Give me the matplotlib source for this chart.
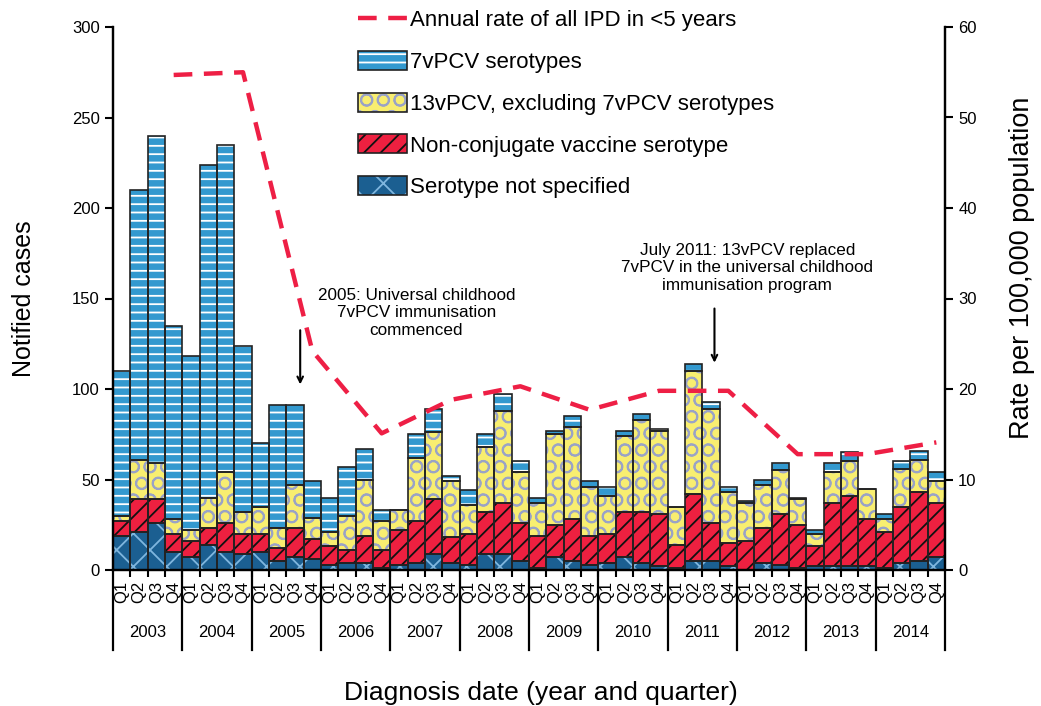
import matplotlib
matplotlib.use("Agg")
import matplotlib.pyplot as plt
from matplotlib.patches import Patch
import numpy as np

plt.rcParams["font.family"] = ["Liberation Sans", "DejaVu Sans"]
plt.rcParams["hatch.linewidth"] = 1.3

years = [str(y) for y in range(2003, 2015)]
quarters = ["Q1", "Q2", "Q3", "Q4"]

# notified cases per quarter, 2003 Q1 .. 2014 Q4
not_specified = [19, 21, 26, 10, 7, 14, 10, 9, 10, 5, 7, 6,
                 3, 4, 4, 1, 3, 4, 9, 4, 3, 9, 9, 5,
                 1, 7, 5, 3, 4, 7, 4, 2, 1, 5, 5, 2,
                 0, 4, 3, 1, 2, 2, 2, 2, 1, 4, 5, 7]
non_conjugate = [8, 18, 13, 10, 9, 9, 16, 11, 10, 7, 16, 11,
                 10, 7, 15, 10, 19, 23, 30, 14, 17, 23, 28, 21,
                 18, 18, 23, 16, 16, 25, 28, 29, 13, 37, 21, 13,
                 16, 19, 28, 24, 11, 35, 39, 26, 20, 31, 38, 30]
pcv13_only = [3, 22, 20, 8, 6, 17, 28, 12, 15, 11, 24, 12,
              8, 19, 31, 16, 11, 35, 37, 31, 16, 36, 51, 28,
              18, 50, 51, 27, 21, 42, 51, 46, 21, 68, 63, 28,
              21, 24, 24, 14, 7, 17, 19, 17, 7, 21, 18, 12]
pcv7 = [80, 149, 181, 107, 96, 184, 181, 92, 35, 68, 44, 20,
        19, 27, 17, 6, 0, 13, 13, 3, 8, 7, 9, 6,
        3, 2, 6, 3, 5, 3, 3, 1, 0, 4, 4, 3,
        1, 3, 4, 1, 2, 5, 5, 0, 3, 4, 5, 5]

# annual rate per 100,000 (<5 years), plotted at Q4 of each year
annual_rate = [54.7, 55.0, 24.2, 15.1, 18.8, 20.3, 17.7, 19.8, 19.8, 12.8, 12.8, 14.1]

RED = "#EE1F45"
series = [
    (not_specified, "#1B5F91", "#7FB6DE", "x", "Serotype not specified"),
    (non_conjugate, "#EE2040", "#111111", "//", "Non-conjugate vaccine serotype"),
    (pcv13_only, "#F8EE70", "#9AA3C6", "O", "13vPCV, excluding 7vPCV serotypes"),
    (pcv7, "#3399CF", "#FFFFFF", "--", "7vPCV serotypes"),
]

fig = plt.figure(figsize=(10.41, 7.06), dpi=100)
ax = fig.add_axes([113 / 1041, 136 / 706, 832 / 1041, 543 / 706])
ax2 = ax.twinx()

n = len(pcv7)
x = np.arange(n)
bottom = np.zeros(n)
handles = {}
for vals, fc, hc, hatch, label in series:
    vals = np.array(vals, dtype=float)
    # hatch layer first, then a plain outline on top
    ax.bar(x, vals, bottom=bottom, width=1.0, color=fc, edgecolor=hc,
           hatch=hatch, linewidth=0, zorder=2)
    ax.bar(x, vals, bottom=bottom, width=1.0, fill=False,
           edgecolor="#222222", linewidth=1.2, zorder=3)
    bottom += vals
    handles[label] = (Patch(facecolor=fc, edgecolor=hc, hatch=hatch, linewidth=0),
                      Patch(fill=False, edgecolor="#222222", linewidth=1.2))

rate_x = [4 * k + 3 for k in range(len(years))]
(rate_line,) = ax2.plot(rate_x, annual_rate, color=RED, lw=3.2,
                        dashes=(4.2, 2.6), zorder=4)

ax.set_xlim(-0.5, n - 0.5)
ax.set_ylim(0, 300)
ax.set_yticks(range(0, 301, 50))
ax2.set_ylim(0, 60)
ax2.set_yticks(range(0, 61, 10))
ax2.patch.set_visible(False)

ax.set_xticks(x)
ax.set_xticklabels(quarters * len(years), rotation=90, fontsize=12)
ax.set_xticks(np.arange(0.5, n - 1, 1), minor=True)
ax.tick_params(axis="x", which="major", length=0, pad=8)
ax.tick_params(axis="x", which="minor", length=5, width=1.5)
ax.tick_params(axis="y", labelsize=12, length=6, width=1.5)
ax2.tick_params(axis="y", labelsize=12, length=6, width=1.5)

for a in (ax, ax2):
    a.spines["top"].set_visible(False)
    for s in ("left", "right", "bottom"):
        a.spines[s].set_linewidth(1.6)

trans = ax.get_xaxis_transform()
for k in range(len(years) + 1):
    ax.plot([4 * k - 0.5] * 2, [0, -0.147], color="black", lw=1.6,
            transform=trans, clip_on=False)
for k, yr in enumerate(years):
    ax.text(4 * k + 1.5, -0.116, yr, transform=trans, ha="center",
            va="center", fontsize=12)

ax.set_ylabel("Notified cases", fontsize=18, labelpad=26)
ax2.set_ylabel("Rate per 100,000 population", fontsize=19.5)
ax2.yaxis.set_label_coords(1.077, 0.556)
fig.text(541 / 1041, 1 - 693 / 706, "Diagnosis date (year and quarter)",
         ha="center", va="center", fontsize=19)

# annotations
ax.text(17.0, 142, "2005: Universal childhood\n7vPCV immunisation\ncommenced",
        ha="center", va="center", fontsize=12.3, linespacing=1.2)
ax.annotate("", xy=(10.3, 101), xytext=(10.3, 134),
            arrowprops=dict(arrowstyle="->", color="black", lw=1.5))
ax.text(36.1, 167, "July 2011: 13vPCV replaced\n7vPCV in the universal childhood\nimmunisation program",
        ha="center", va="center", fontsize=12.3, linespacing=1.2)
ax.annotate("", xy=(34.2, 113), xytext=(34.2, 146),
            arrowprops=dict(arrowstyle="->", color="black", lw=1.5))

labels = ["Annual rate of all IPD in <5 years", "7vPCV serotypes",
          "13vPCV, excluding 7vPCV serotypes", "Non-conjugate vaccine serotype",
          "Serotype not specified"]
h = [rate_line] + [handles[l] for l in labels[1:]]
fig.legend(h, labels, loc="upper left", bbox_to_anchor=(358 / 1041, 1 - 9 / 706),
           frameon=False, fontsize=16, labelspacing=0.88, handlelength=2.2,
           handleheight=0.95, handletextpad=0.15, borderpad=0, borderaxespad=0)

fig.savefig("out.png", dpi=100)
